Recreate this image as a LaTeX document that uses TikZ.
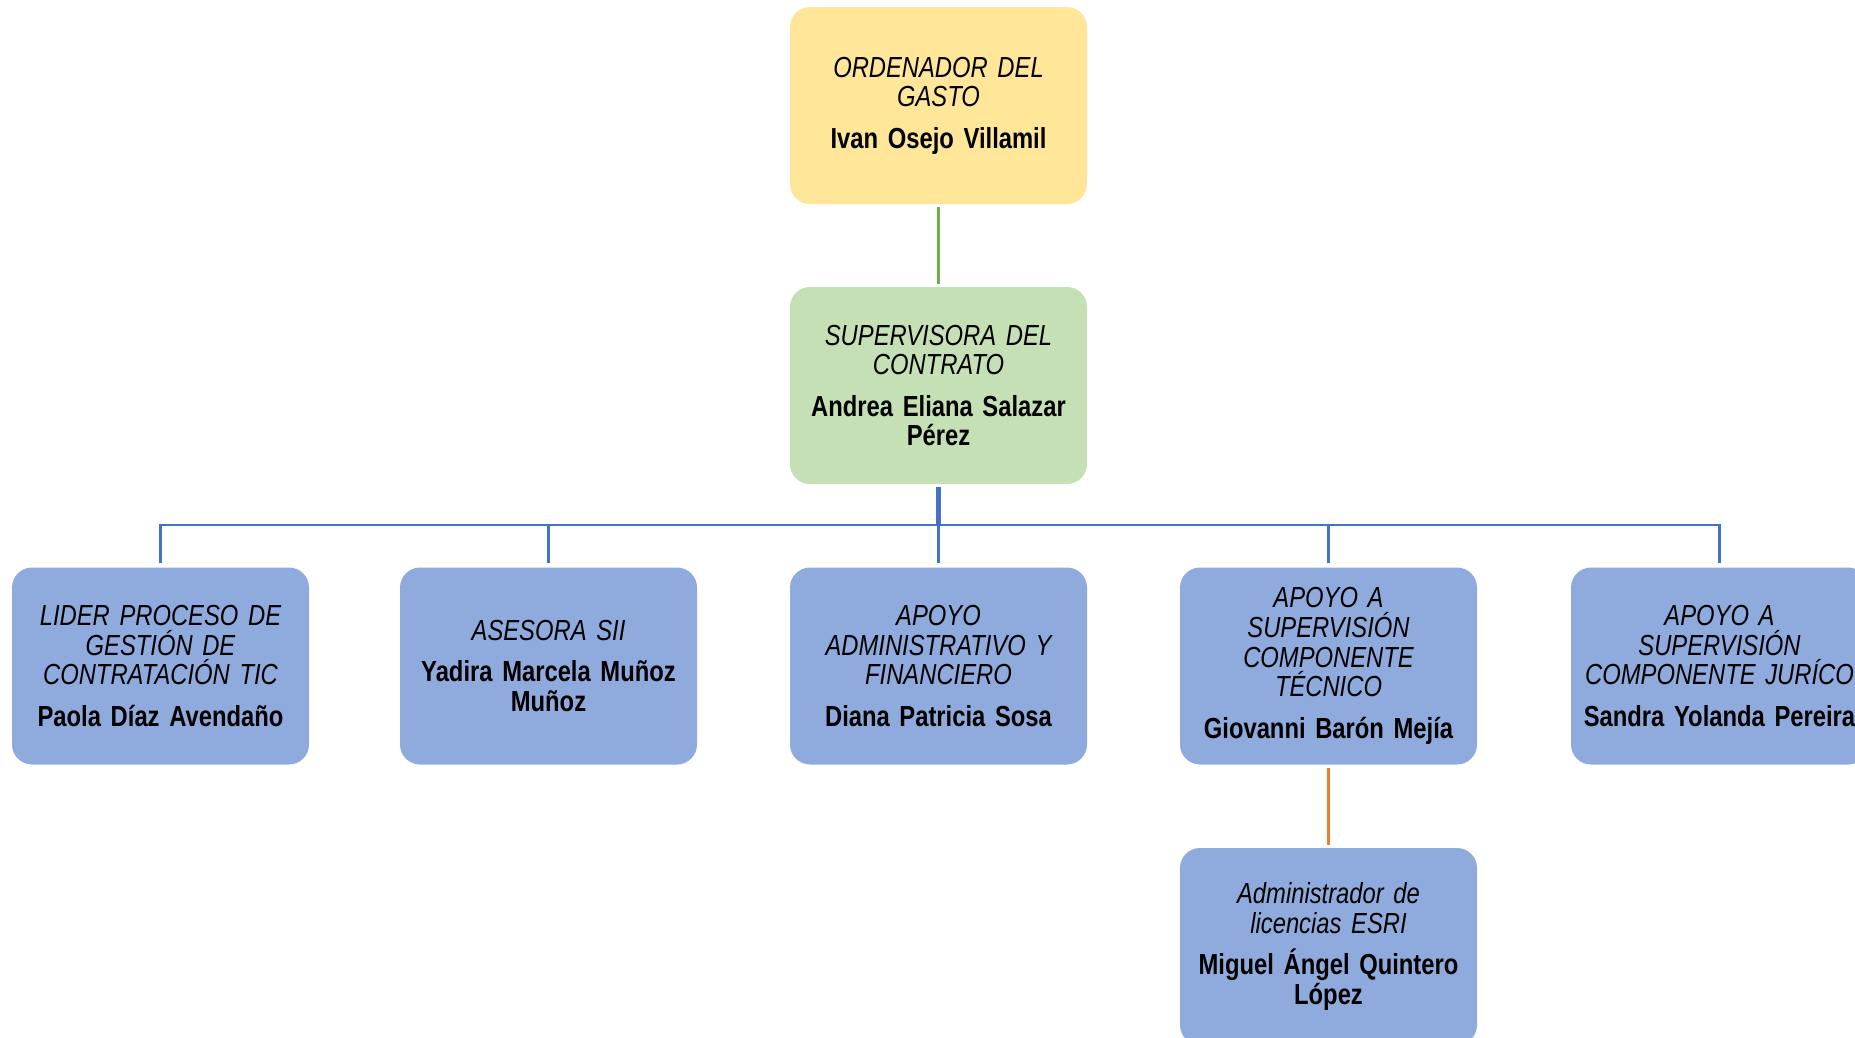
\documentclass[tikz,border=0pt]{standalone}
\usepackage{fontspec}
\setmainfont{Liberation Sans}[FakeStretch=0.82, WordSpace=0.8]
\definecolor{boxyellow}{HTML}{FFE699}
\definecolor{boxgreen}{HTML}{C5E0B4}
\definecolor{boxblue}{HTML}{8FAADC}
\definecolor{lgreen}{HTML}{70AD47}
\definecolor{lblue}{HTML}{4472C4}
\definecolor{lorange}{HTML}{ED7D31}
\tikzset{
  orgbox/.style={rounded corners=20pt, minimum width=297pt, minimum height=197pt,
    inner sep=0pt, align=center, text width=290pt, font=\fontsize{29}{29.6}\selectfont},
  ybox/.style={orgbox, fill=boxyellow},
  gbox/.style={orgbox, fill=boxgreen},
  bbox/.style={orgbox, fill=boxblue},
  blueline/.style={draw=lblue, line width=2.8pt},
}
\newcommand{\rolel}[1]{{\itshape #1}}
\newcommand{\namel}[1]{{\bfseries #1}}
\begin{document}
\begin{tikzpicture}[x=1pt,y=-1pt]
\useasboundingbox (0,0) rectangle (1855,1037);
\clip (0,0) rectangle (1855,1037);
\fill[white] (0,0) rectangle (1855,1037);
\node[ybox] (top) at (938.5,105.5) {\rolel{ORDENADOR DEL\\GASTO}\\[12pt]\namel{Ivan Osejo Villamil}};
\node[gbox] (sup) at (938.5,385.5) {\rolel{SUPERVISORA DEL\\CONTRATO}\\[12pt]\namel{Andrea Eliana Salazar\\Pérez}};
\node[bbox] (r1) at (160.5,666) {\rolel{LIDER PROCESO DE\\GESTIÓN DE\\CONTRATACIÓN TIC}\\[12pt]\namel{Paola Díaz Avendaño}};
\node[bbox] (r2) at (548.5,666) {\rolel{ASESORA SII}\\[12pt]\namel{Yadira Marcela Muñoz\\Muñoz}};
\node[bbox] (r3) at (938.5,666) {\rolel{APOYO\\ADMINISTRATIVO Y\\FINANCIERO}\\[12pt]\namel{Diana Patricia Sosa}};
\node[bbox] (r4) at (1328.5,666) {\rolel{APOYO A\\SUPERVISIÓN\\COMPONENTE\\TÉCNICO}\\[12pt]\namel{Giovanni Barón Mejía}};
\node[bbox] (r5) at (1719.5,666) {\rolel{APOYO A\\SUPERVISIÓN\\COMPONENTE JURÍCO}\\[12pt]\namel{Sandra Yolanda Pereira}};
\node[bbox] (r6) at (1328.5,946.5) {\rolel{Administrador de\\licencias ESRI}\\[12pt]\namel{Miguel Ángel Quintero\\López}};
\coordinate (bar) at (938.5,525);
\draw[draw=lgreen, line width=2.5pt, shorten <=3pt, shorten >=3pt] (top.south) -- (sup.north);
\draw[blueline, line width=5pt, shorten <=3pt] (sup.south) -- (sup.south |- bar);
\draw[blueline, shorten <=4pt, line join=miter] (r1.north) -- (r1.north |- bar) -- (r5.north |- bar) -- (r5.north) [shorten >=4pt];
\draw[blueline, shorten <=4pt] (r2.north) -- (r2.north |- bar);
\draw[blueline, shorten <=4pt] (r3.north) -- (r3.north |- bar);
\draw[blueline, shorten <=4pt] (r4.north) -- (r4.north |- bar);
\draw[draw=lorange, line width=2.5pt, shorten <=3pt, shorten >=3pt] (r4.south) -- (r6.north);
\end{tikzpicture}
\end{document}
